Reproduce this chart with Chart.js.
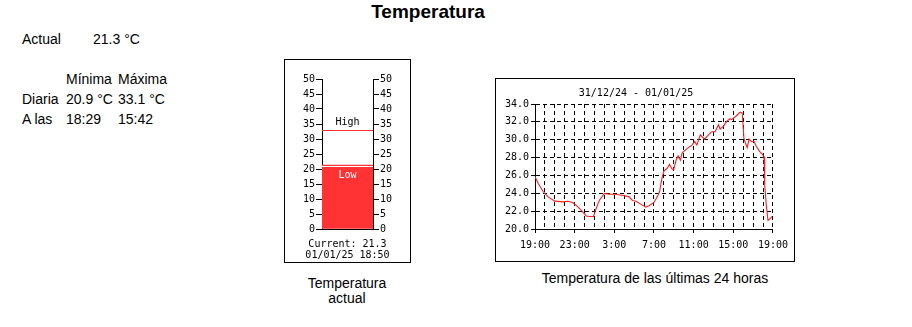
<!DOCTYPE html>
<html>
<head>
<meta charset="utf-8">
<script src="https://cdn.jsdelivr.net/npm/chart.js@4"></script>
<style>
  body { margin: 0; width: 912px; height: 327px; background: #fff; position: relative;
         font-family: "Liberation Sans", Arial, sans-serif; font-size: 14px; color: #000; }
  .t { position: absolute; line-height: 15px; white-space: nowrap; }
  .box { position: absolute; border: 1px solid #000; }
  .box canvas { display: block; }
</style>
</head>
<body>
<div class="t" style="left:0;width:856px;top:1px;text-align:center;font-weight:bold;font-size:19px;line-height:22px;">Temperatura</div>

<div class="t" style="left:22px;top:32px;">Actual</div>
<div class="t" style="left:93px;top:32px;">21.3 °C</div>
<div class="t" style="left:66px;top:72px;">Mínima</div>
<div class="t" style="left:118px;top:72px;">Máxima</div>
<div class="t" style="left:22px;top:92px;">Diaria</div>
<div class="t" style="left:66px;top:92px;">20.9 °C</div>
<div class="t" style="left:118px;top:92px;">33.1 °C</div>
<div class="t" style="left:22px;top:112px;">A las</div>
<div class="t" style="left:66px;top:112px;">18:29</div>
<div class="t" style="left:118px;top:112px;">15:42</div>

<div class="box" style="left:284px;top:59px;width:125px;height:202px;">
  <canvas id="thermo" width="125" height="202"></canvas>
</div>
<div class="t" style="left:287px;width:120px;top:276px;text-align:center;">Temperatura<br>actual</div>

<div class="box" style="left:495px;top:78px;width:298px;height:182px;">
  <canvas id="hist" width="298" height="182"></canvas>
</div>
<div class="t" style="left:535px;width:240px;top:271px;text-align:center;">Temperatura de las últimas 24 horas</div>

<script>
// thermometer values
const currentTemp = [21.3];
const lowTemp = 20.9;
const highTemp = 33.1;
const thermoLines = ['Current: 21.3', '01/01/25 18:50'];

// last 24 h, hours counted from 19:00
const histHours = [0, 0.33, 0.83, 1.33, 2, 2.83, 3.33, 3.83, 4.33, 4.83, 5.17, 5.5, 5.9, 6.17, 6.5,
  7, 7.5, 8.17, 9, 9.5, 9.83, 10.17, 10.5, 11.17, 11.5, 12, 12.33, 12.57, 12.77, 13, 13.33, 13.57,
  13.83, 14, 14.23, 14.43, 14.67, 14.83, 15.33, 15.83, 16.1, 16.33, 16.67, 16.83, 17.1, 17.5, 17.83,
  18.17, 18.5, 18.67, 19, 19.33, 19.67, 19.83, 20.23, 20.5, 20.7, 20.9, 21.07, 21.23, 21.4, 21.6,
  21.83, 22.1, 22.33, 22.67, 22.93, 23.1, 23.17, 23.33, 23.5, 23.67, 23.9];
const histTemps = [25.86, 25.1, 24.17, 23.6, 23.12, 23.04, 23.1, 22.93, 22.48, 21.9, 21.46, 21.4, 21.4, 22.3, 23.23,
  23.98, 23.9, 23.9, 23.72, 23.6, 23.2, 23.1, 22.9, 22.45, 22.6, 22.97, 23.6, 24.2, 25.5, 26.5, 26.8, 27.25,
  26.7, 26.7, 27.7, 28.2, 27.7, 28.5, 29.0, 29.4, 29.8, 29.4, 30.55, 30.36, 30.06, 30.55, 30.9,
  30.9, 31.68, 31.2, 31.5, 32.05, 32.35, 32.25, 32.6, 32.88, 33.1, 33.0, 30.18, 29.6, 29.12, 30.06,
  29.8, 29.8, 29.24, 28.67, 28.38, 28.1, 24.9, 22.67, 20.95, 21.1, 21.4];
const histTitle = '31/12/24 - 01/01/25';
const hourLabels = ['19:00', '23:00', '3:00', '7:00', '11:00', '15:00', '19:00'];

const red = 'rgb(255,51,51)';
const mono = { family: '"DejaVu Sans Mono", monospace', size: 10 };

// low / high marks drawn on the bar
const thermoMarks = {
  id: 'thermoMarks',
  afterDatasetsDraw(chart) {
    const { ctx, chartArea: a } = chart;
    const y = chart.scales.y;
    const mid = (a.left + a.right) / 2;
    ctx.save();
    ctx.lineWidth = 1;
    ctx.strokeStyle = '#000';
    ctx.beginPath();
    ctx.moveTo(a.left, Math.round(a.bottom) + 0.5);
    ctx.lineTo(a.right, Math.round(a.bottom) + 0.5);
    ctx.stroke();

    const yh = Math.round(y.getPixelForValue(highTemp)) + 0.5;
    ctx.strokeStyle = red;
    ctx.beginPath(); ctx.moveTo(a.left, yh); ctx.lineTo(a.right, yh); ctx.stroke();

    const yl = Math.round(y.getPixelForValue(lowTemp)) + 0.5;
    ctx.strokeStyle = '#fff';
    ctx.beginPath(); ctx.moveTo(a.left, yl); ctx.lineTo(a.right, yl); ctx.stroke();

    ctx.font = '10px "DejaVu Sans Mono", monospace';
    ctx.textAlign = 'center';
    ctx.textBaseline = 'middle';
    ctx.fillStyle = '#000';
    ctx.fillText('High', mid, yh - 8);
    ctx.fillStyle = '#fff';
    ctx.fillText('Low', mid, yl + 9);
    ctx.restore();
  }
};

function thermoAxis(pos) {
  return {
    position: pos,
    min: 0,
    max: 50,
    ticks: { stepSize: 5, font: mono, color: '#000', padding: 1 },
    grid: { drawOnChartArea: false, tickLength: 6, tickColor: '#000' },
    border: { color: '#000' },
    afterFit: s => { s.width = 37; }
  };
}

new Chart(document.getElementById('thermo'), {
  type: 'bar',
  data: {
    labels: [''],
    datasets: [{ data: currentTemp, backgroundColor: red, borderWidth: 0,
      barPercentage: 1, categoryPercentage: 1 }]
  },
  options: {
    responsive: false,
    animation: false,
    layout: { padding: { top: 19, bottom: 0 } },
    plugins: {
      legend: { display: false },
      tooltip: { enabled: false },
      title: {
        display: true,
        position: 'bottom',
        text: thermoLines,
        color: '#000',
        font: { family: mono.family, size: 10, weight: 'normal', lineHeight: 1.1 },
        padding: { top: 10, bottom: 1 }
      }
    },
    scales: {
      x: { display: false },
      y: thermoAxis('left'),
      y2: thermoAxis('right')
    }
  },
  plugins: [thermoMarks]
});

new Chart(document.getElementById('hist'), {
  type: 'line',
  data: {
    datasets: [{
      data: histHours.map((h, i) => ({ x: h, y: histTemps[i] })),
      borderColor: 'rgb(255,30,30)',
      borderWidth: 1.1,
      pointRadius: 0,
      tension: 0,
      fill: false
    }]
  },
  options: {
    responsive: false,
    animation: false,
    layout: { padding: { right: 18, bottom: 12 } },
    plugins: {
      legend: { display: false },
      tooltip: { enabled: false },
      title: {
        display: true,
        text: histTitle,
        color: '#000',
        font: { family: mono.family, size: 10, weight: 'normal', lineHeight: 1.1 },
        padding: { top: 9, bottom: 5 }
      }
    },
    scales: {
      x: {
        type: 'linear',
        min: 0,
        max: 24,
        ticks: {
          stepSize: 1,
          autoSkip: false,
          maxRotation: 0,
          font: mono,
          color: '#000',
          padding: 6,
          callback: v => (v % 4 === 0 ? hourLabels[v / 4] : '')
        },
        grid: {
          color: '#000',
          tickLength: 4,
          tickBorderDash: [],
          tickColor: c => (c.tick && c.tick.value % 4 === 0 ? '#000' : 'rgba(0,0,0,0)')
        },
        border: { color: '#000', dash: [4, 3] },
        afterFit: s => { s.height = 20; }
      },
      y: {
        min: 20,
        max: 34,
        ticks: { stepSize: 2, font: mono, color: '#000', padding: 2,
          callback: v => v.toFixed(1) },
        grid: { color: '#000', tickLength: 4, tickBorderDash: [], tickColor: '#000' },
        border: { color: '#000', dash: [4, 3] },
        afterFit: s => { s.width = 39; }
      }
    }
  }
});
</script>
</body>
</html>
